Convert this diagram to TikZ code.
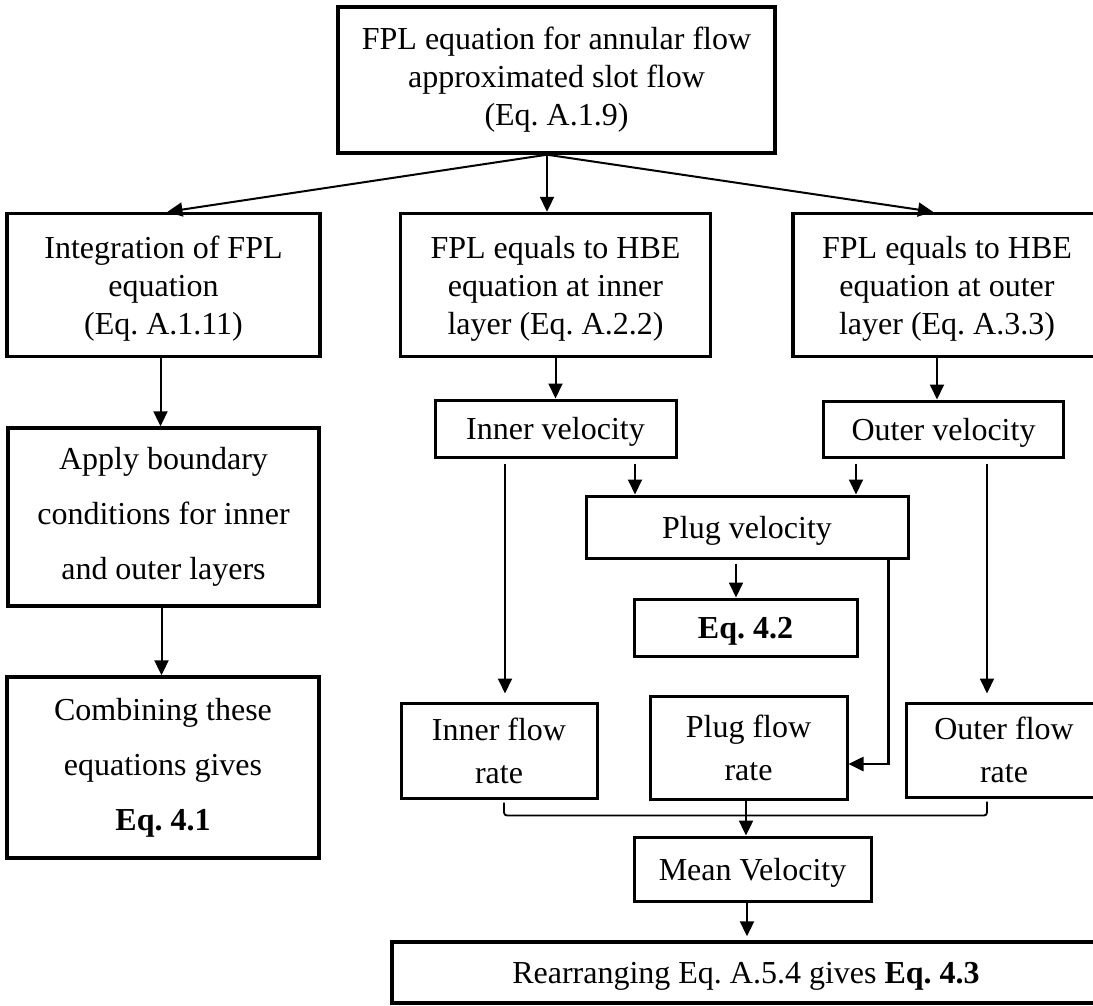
\documentclass[tikz,border=0pt]{standalone}
\usepackage{fontspec}
\setmainfont{Liberation Serif}
\usetikzlibrary{arrows.meta}
\frenchspacing
\begin{document}
\begin{tikzpicture}[x=1pt,y=-1pt,
  box/.style={draw, line width=3.4pt, inner sep=0pt, align=center, anchor=center,
    font=\fontsize{32}{38}\selectfont},
  sbox/.style={box, line width=3pt},
  wide/.style={font=\fontsize{32}{55}\selectfont},
  mid/.style={font=\fontsize{32}{43}\selectfont},
  low/.style={text depth=-9pt},
  arr/.style={line width=2pt, -{Triangle[length=15pt,width=14pt]}},
  brk/.style={line width=1.8pt, rounded corners=3pt}]
\useasboundingbox (0,0) rectangle (1093,1006);
% boxes
\node[box, minimum width=437pt, minimum height=146pt] (top) at (556.5,80)
  {FPL equation for annular flow\\approximated slot flow\\(Eq. A.1.9)};
\node[box, low, minimum width=313pt, minimum height=143pt] (left) at (163.5,285)
  {Integration of FPL\\equation\\(Eq. A.1.11)};
\node[box, low, minimum width=310pt, minimum height=143pt] (center) at (555.5,285)
  {FPL equals to HBE\\equation at inner\\layer (Eq. A.2.2)};
\node[box, low, minimum width=308pt, minimum height=143pt] (right) at (947,285)
  {FPL equals to HBE\\equation at outer\\layer (Eq. A.3.3)};
\node[box, wide, minimum width=311pt, minimum height=178pt] (apply) at (163.5,517)
  {Apply boundary\\conditions for inner\\and outer layers};
\node[box, wide, minimum width=312pt, minimum height=181pt] (comb) at (163,767.5)
  {Combining these\\equations gives\\\textbf{Eq. 4.1}};
\node[sbox, low, minimum width=241pt, minimum height=57pt] (innervel) at (555.5,428.5)
  {Inner velocity};
\node[sbox, low, minimum width=240pt, minimum height=56pt] (outervel) at (943.5,429)
  {Outer velocity};
\node[sbox, low, minimum width=322pt, minimum height=62pt] (plugvel) at (747,527)
  {Plug velocity};
\node[sbox, low, minimum width=223pt, minimum height=57pt] (eqtwo) at (745.5,627.5)
  {\textbf{Eq. 4.2}};
\node[sbox, mid, low, minimum width=196pt, minimum height=95pt] (innerflow) at (499,750.5)
  {Inner flow\\rate};
\node[sbox, mid, minimum width=197pt, minimum height=103pt] (plugflow) at (748.5,747.5)
  {Plug flow\\rate};
\node[sbox, mid, low, minimum width=196pt, minimum height=94pt] (outerflow) at (1004,750)
  {Outer flow\\rate};
\node[sbox, low, minimum width=237pt, minimum height=64pt] (mean) at (752.5,869)
  {Mean Velocity};
\node[box, low, minimum width=708pt, minimum height=61pt] (rearr) at (746,972.5)
  {Rearranging Eq. A.5.4 gives \textbf{Eq. 4.3}};
% connectors
\coordinate (ts) at ([xshift=-9.5pt]top.south);
\draw[arr] (ts) -- ([xshift=4pt]left.north);
\draw[arr] (ts) -- ([xshift=-8.5pt]center.north);
\draw[arr] (ts) -- ([xshift=-14pt]right.north);
\draw[arr] ([xshift=-3pt]left.south) -- ([xshift=-3pt]left.south |- apply.north);
\draw[arr] ([xshift=-2pt]apply.south) -- ([xshift=-2pt]apply.south |- comb.north);
\draw[arr] (center.south) -- (innervel.north);
\draw[arr] ([xshift=-6.5pt]outervel.north |- right.south) -- ([xshift=-6.5pt]outervel.north);
\draw[arr, shorten <=5pt] ([xshift=79.5pt]innervel.south) -- ([xshift=79.5pt]innervel.south |- plugvel.north);
\draw[arr, shorten <=5pt] ([xshift=-87.5pt]outervel.south) -- ([xshift=-87.5pt]outervel.south |- plugvel.north);
\draw[arr, shorten <=5pt, shorten >=8pt] ([xshift=-50.5pt]innervel.south) -- ([xshift=-50.5pt]innervel.south |- innerflow.north);
\draw[arr, shorten <=5pt, shorten >=8pt] ([xshift=43.5pt]outervel.south) -- ([xshift=43.5pt]outervel.south |- outerflow.north);
\draw[arr, shorten <=4pt] ([xshift=-11pt]plugvel.south) -- ([xshift=-11pt]plugvel.south |- eqtwo.north);
\draw[arr, line width=2.6pt] ([xshift=-21pt]plugvel.south east) |- ([yshift=-16.5pt]plugflow.east);
\draw[brk] ([xshift=5pt,yshift=-3pt]innerflow.south) -- ([xshift=5pt,yshift=-16pt]innerflow.south)
  -| ([xshift=-17pt,yshift=-3pt]outerflow.south);
\draw[arr, line width=2.4pt] ([xshift=-2.5pt]plugflow.south) -- ([xshift=-2.5pt]plugflow.south |- mean.north);
\draw[arr, shorten >=4pt] ([xshift=-5.5pt]mean.south) -- ([xshift=-5.5pt]mean.south |- rearr.north);
\end{tikzpicture}
\end{document}
